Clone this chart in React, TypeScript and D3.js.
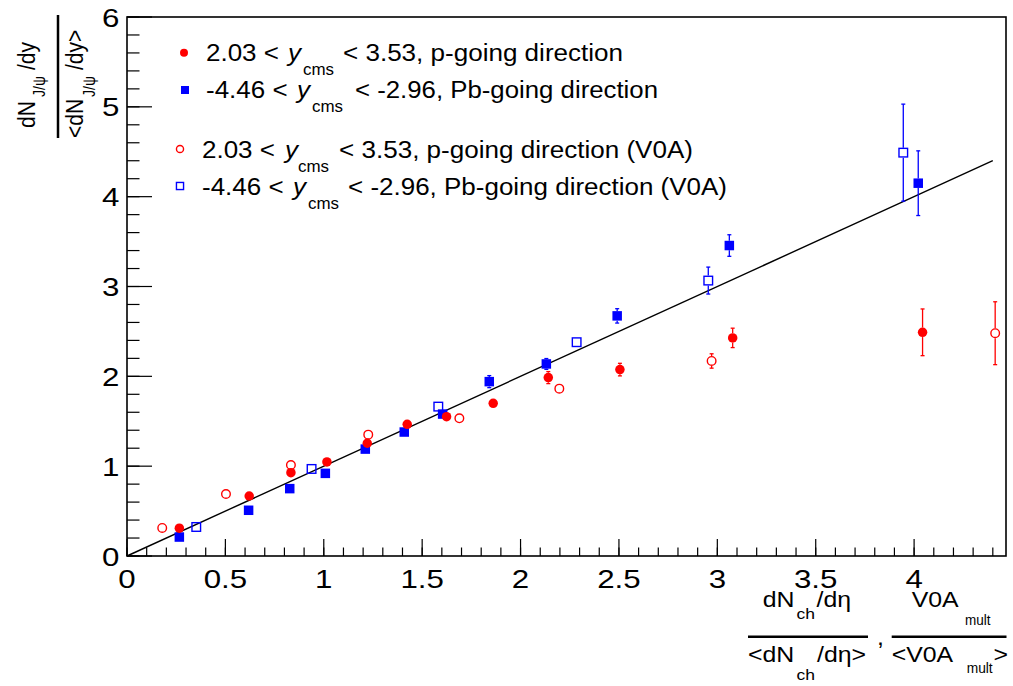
import React from "react";
import * as d3 from "d3";

// ---------- data ----------
const xTickValues = [0, 0.5, 1, 1.5, 2, 2.5, 3, 3.5, 4];
const xTickLabels = ["0", "0.5", "1", "1.5", "2", "2.5", "3", "3.5", "4"];
const yTickValues = [0, 1, 2, 3, 4, 5, 6];
const yTickLabels = ["0", "1", "2", "3", "4", "5", "6"];

// p-going direction, dNch/deta
const pX = [0.266, 0.621, 0.833, 1.016, 1.221, 1.424, 1.624, 1.861, 2.141, 2.505, 3.078, 4.043];
const pY = [0.31, 0.668, 0.928, 1.047, 1.255, 1.466, 1.551, 1.7, 1.986, 2.075, 2.428, 2.49];
const pErr = [0.02, 0.02, 0.03, 0.03, 0.03, 0.03, 0.03, 0.04, 0.067, 0.07, 0.108, 0.26];

// Pb-going direction, dNch/deta
const pbX = [0.266, 0.618, 0.827, 1.008, 1.211, 1.409, 1.604, 1.841, 2.131, 2.491, 3.061, 4.021];
const pbY = [0.211, 0.509, 0.75, 0.92, 1.19, 1.38, 1.58, 1.941, 2.138, 2.673, 3.456, 4.15];
const pbErr = [0.02, 0.02, 0.03, 0.03, 0.03, 0.03, 0.04, 0.067, 0.06, 0.08, 0.12, 0.36];

// p-going direction, V0A
const pV0X = [0.179, 0.503, 0.833, 1.226, 1.689, 2.197, 2.971, 4.412];
const pV0Y = [0.312, 0.69, 1.013, 1.351, 1.533, 1.863, 2.171, 2.48];
const pV0Err = [0.02, 0.02, 0.03, 0.03, 0.03, 0.04, 0.08, 0.35];

// Pb-going direction, V0A
const pbV0X = [0.352, 0.938, 1.582, 2.285, 2.954, 3.945];
const pbV0Y = [0.323, 0.969, 1.663, 2.38, 3.066, 4.49];
const pbV0Err = [0.02, 0.03, 0.04, 0.05, 0.15, 0.54];

// linear reference line y = slope * x
const lineSlope = 1.0;
const lineXRange = [0, 4.4];

const RED = "#ff0000";
const BLUE = "#0000ff";
const FONT = "'Liberation Sans', Arial, Helvetica, sans-serif";

type Series = { xs: number[]; ys: number[]; es: number[]; color: string; shape: "circle" | "square"; filled: boolean };

const series: Series[] = [
  { xs: pV0X, ys: pV0Y, es: pV0Err, color: RED, shape: "circle", filled: false },
  { xs: pbV0X, ys: pbV0Y, es: pbV0Err, color: BLUE, shape: "square", filled: false },
  { xs: pbX, ys: pbY, es: pbErr, color: BLUE, shape: "square", filled: true },
  { xs: pX, ys: pY, es: pErr, color: RED, shape: "circle", filled: true },
];

function Marker({ cx, cy, color, shape, filled, size }: { cx: number; cy: number; color: string; shape: string; filled: boolean; size: number }) {
  const h = size / 2;
  if (shape === "circle") {
    return filled ? (
      <circle cx={cx} cy={cy} r={h} fill={color} />
    ) : (
      <circle cx={cx} cy={cy} r={h - 0.7} fill="none" stroke={color} strokeWidth={1.4} />
    );
  }
  return filled ? (
    <rect x={cx - h} y={cy - h} width={size} height={size} fill={color} />
  ) : (
    <rect x={cx - h + 0.7} y={cy - h + 0.7} width={size - 1.4} height={size - 1.4} fill="none" stroke={color} strokeWidth={1.4} />
  );
}

function T({ x, y, size, sx = 1.13, anchor = "start", italic = false, children, len }: any) {
  return (
    <text
      transform={`translate(${x},${y}) scale(${sx},1)`}
      fontSize={size}
      fontFamily={FONT}
      fontStyle={italic ? "italic" : "normal"}
      textAnchor={anchor}
      fill="#000"
      {...(len ? { textLength: len / sx, lengthAdjust: "spacingAndGlyphs" } : {})}
    >
      {children}
    </text>
  );
}

export default function App() {
  const W = 1013;
  const H = 686;
  const x = d3.scaleLinear().domain([0, 4.467]).range([127, 1006]);
  const y = d3.scaleLinear().domain([0, 6]).range([556, 17]);
  const [x0, x1] = x.range();
  const [y0, y1] = y.range();

  const xMinor = d3.range(0, 4.4501, 0.1);
  const yMinor = d3.range(0, 6.001, 0.2);
  const line = d3.line<number>().x((d) => x(d)).y((d) => y(lineSlope * d));

  const tickFont = 26.5;
  const tickSx = 1.18;

  const legendRows = [
    { mx: 184, my: 52.7, color: RED, shape: "circle", filled: true, tx: 206, base: 61, a: "2.03 <", yx: 288, subx: 303, restx: 343, rest: "< 3.53, p-going direction", restEnd: 623 },
    { mx: 185, my: 90, color: BLUE, shape: "square", filled: true, tx: 206, base: 97.5, a: "-4.46 <", yx: 297, subx: 312, restx: 355, rest: "< -2.96, Pb-going direction", restEnd: 658 },
    { mx: 180, my: 149, color: RED, shape: "circle", filled: false, tx: 202, base: 157.5, a: "2.03 <", yx: 285, subx: 298, restx: 339, rest: "< 3.53, p-going direction (V0A)", restEnd: 693 },
    { mx: 180, my: 186, color: BLUE, shape: "square", filled: false, tx: 202, base: 194.5, a: "-4.46 <", yx: 293, subx: 308, restx: 348, rest: "< -2.96, Pb-going direction (V0A)", restEnd: 727 },
  ];

  return (
    <svg width={W} height={H} style={{ position: "absolute", left: 0, top: 0, background: "#fff" }}>
      <rect x={0} y={0} width={W} height={H} fill="#fff" />
      {/* frame */}
      <rect x={x0} y={y1} width={x1 - x0} height={y0 - y1} fill="none" stroke="#000" strokeWidth={1.6} />

      {/* x ticks */}
      {xMinor.map((v, i) => (
        <line key={"xm" + i} x1={x(v)} x2={x(v)} y1={y0} y2={y0 - 8.5} stroke="#000" strokeWidth={1.2} />
      ))}
      {xTickValues.map((v, i) => (
        <line key={"xM" + i} x1={x(v)} x2={x(v)} y1={y0} y2={y0 - 17} stroke="#000" strokeWidth={1.2} />
      ))}
      {/* y ticks */}
      {yMinor.map((v, i) => (
        <line key={"ym" + i} x1={x0} x2={x0 + 12.5} y1={y(v)} y2={y(v)} stroke="#000" strokeWidth={1.2} />
      ))}
      {yTickValues.map((v, i) => (
        <line key={"yM" + i} x1={x0} x2={x0 + 25} y1={y(v)} y2={y(v)} stroke="#000" strokeWidth={1.2} />
      ))}

      {/* tick labels */}
      {xTickValues.map((v, i) => (
        <T key={"xl" + i} x={x(v)} y={588} size={tickFont} sx={tickSx} anchor="middle">
          {xTickLabels[i]}
        </T>
      ))}
      {yTickValues.map((v, i) => (
        <T key={"yl" + i} x={119.5} y={y(v) + 9.5} size={tickFont} sx={tickSx} anchor="end">
          {yTickLabels[i]}
        </T>
      ))}

      {/* reference line */}
      <path d={line(lineXRange) || ""} fill="none" stroke="#000" strokeWidth={1.4} />

      {/* error bars + markers */}
      {series.map((s, si) => {
        const MS = s.filled ? 9.5 : 10;
        return (
          <g key={"s" + si}>
            {s.xs.map((xv, i) => {
              const cx = x(xv);
              const cy = y(s.ys[i]);
              const top = y(s.ys[i] + s.es[i]);
              const bot = y(s.ys[i] - s.es[i]);
              const h = MS / 2;
              return (
                <g key={i}>
                  {cy - top > h && (
                    <>
                      <line x1={cx} x2={cx} y1={top} y2={cy - h} stroke={s.color} strokeWidth={1.3} />
                      <line x1={cx - 2} x2={cx + 2} y1={top} y2={top} stroke={s.color} strokeWidth={1.3} />
                    </>
                  )}
                  {bot - cy > h && (
                    <>
                      <line x1={cx} x2={cx} y1={cy + h} y2={bot} stroke={s.color} strokeWidth={1.3} />
                      <line x1={cx - 2} x2={cx + 2} y1={bot} y2={bot} stroke={s.color} strokeWidth={1.3} />
                    </>
                  )}
                  <Marker cx={cx} cy={cy} color={s.color} shape={s.shape} filled={s.filled} size={MS} />
                </g>
              );
            })}
          </g>
        );
      })}

      {/* legend */}
      {legendRows.map((r, i) => (
        <g key={"lg" + i}>
          <Marker cx={r.mx} cy={r.my} color={r.color} shape={r.shape} filled={r.filled} size={r.filled ? 8 : 8.5} />
          <T x={r.tx} y={r.base} size={23}>{r.a}</T>
          <T x={r.yx} y={r.base} size={23} italic>y</T>
          <T x={r.subx} y={r.base + 14} size={16} len={31}>cms</T>
          <T x={r.restx} y={r.base} size={23} len={r.restEnd - r.restx}>{r.rest}</T>
        </g>
      ))}

      {/* y axis title (rotated fraction) */}
      <g transform="translate(0,0) scale(1.13,1) rotate(-90)">
        <text fontFamily={FONT} fontSize={21} fill="#000">
          <tspan x={-128} y={35 / 1.13}>dN</tspan>
          <tspan x={-97} y={45 / 1.13} fontSize={14}>J/ψ</tspan>
          <tspan x={-70} y={35 / 1.13}>/dy</tspan>
        </text>
        <text fontFamily={FONT} fontSize={21} fill="#000">
          <tspan x={-138} y={83 / 1.13}>&lt;dN</tspan>
          <tspan x={-97} y={95 / 1.13} fontSize={14}>J/ψ</tspan>
          <tspan x={-70} y={83 / 1.13}>/dy&gt;</tspan>
        </text>
      </g>
      <line x1={58} x2={58} y1={15} y2={138} stroke="#000" strokeWidth={2.5} />

      {/* x axis title */}
      <T x={762.7} y={607} size={22}>dN</T>
      <T x={796.5} y={619} size={15} len={18.5}>ch</T>
      <T x={816.5} y={607} size={22}>/dη</T>
      <line x1={748} x2={868} y1={636.7} y2={636.7} stroke="#000" strokeWidth={2.5} />
      <T x={748} y={662} size={22}>&lt;dN</T>
      <T x={796.5} y={680} size={15} len={18.5}>ch</T>
      <T x={817} y={662} size={22}>/dη&gt;</T>
      <T x={877} y={645} size={22}>,</T>
      <T x={911.7} y={607} size={22}>V0A</T>
      <T x={965} y={625} size={14} len={25.5}>mult</T>
      <line x1={891.7} x2={1006.5} y1={636.7} y2={636.7} stroke="#000" strokeWidth={2.5} />
      <T x={891.7} y={662} size={22}>&lt;V0A</T>
      <T x={966.7} y={673} size={14} len={26}>mult</T>
      <T x={993.5} y={662} size={22}>&gt;</T>
    </svg>
  );
}
